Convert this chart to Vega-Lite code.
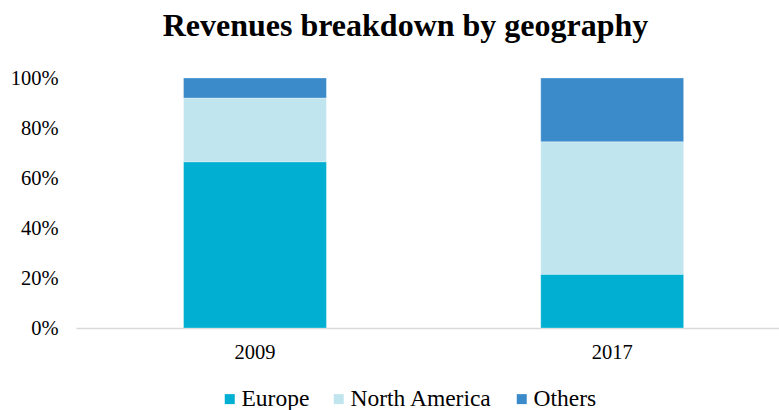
{
  "$schema": "https://vega.github.io/schema/vega-lite/v6.json",
  "autosize": "none",
  "width": 703,
  "height": 250,
  "padding": {"left": 76, "top": 78, "right": 0, "bottom": 82},
  "background": "white",
  "title": {
    "text": "Revenues breakdown by geography",
    "font": "Liberation Serif",
    "fontSize": 32,
    "fontWeight": "bold",
    "color": "#000000",
    "anchor": "middle",
    "dx": -22,
    "offset": 25
  },
  "data": {
    "values": [
      {"year": "2009", "region": "Europe", "share": 66.5},
      {"year": "2009", "region": "North America", "share": 25.5},
      {"year": "2009", "region": "Others", "share": 8},
      {"year": "2017", "region": "Europe", "share": 21.5},
      {"year": "2017", "region": "North America", "share": 53},
      {"year": "2017", "region": "Others", "share": 25.5}
    ]
  },
  "mark": {"type": "bar", "stroke": "#ffffff", "strokeWidth": 0.5, "strokeOpacity": 0.6},
  "encoding": {
    "x": {
      "field": "year",
      "type": "nominal",
      "scale": {"paddingInner": 0.6, "paddingOuter": 0.284, "align": 0.53},
      "axis": {
        "title": null,
        "labelAngle": 0,
        "labelFont": "Liberation Serif",
        "labelFontSize": 20.5,
        "labelColor": "#000000",
        "labelPadding": 14,
        "ticks": false,
        "domainColor": "#d9d9d9",
        "domainWidth": 1.5
      }
    },
    "y": {
      "field": "share",
      "type": "quantitative",
      "stack": "normalize",
      "scale": {"domain": [0, 1]},
      "axis": {
        "title": null,
        "format": ".0%",
        "values": [0, 0.2, 0.4, 0.6, 0.8, 1],
        "labelFont": "Liberation Serif",
        "labelFontSize": 20.5,
        "labelColor": "#000000",
        "labelPadding": 18,
        "ticks": false,
        "domain": false,
        "grid": false
      }
    },
    "color": {
      "field": "region",
      "type": "nominal",
      "scale": {
        "domain": ["Europe", "North America", "Others"],
        "range": ["#00AFD1", "#C0E5EE", "#3B8BCA"]
      },
      "legend": {
        "title": null,
        "orient": "none",
        "legendX": 142,
        "legendY": 309,
        "direction": "horizontal",
        "symbolType": "square",
        "symbolSize": 100,
        "symbolStrokeWidth": 0,
        "labelFont": "Liberation Serif",
        "labelFontSize": 23.5,
        "labelColor": "#000000",
        "columnPadding": 17,
        "labelOffset": 0
      }
    },
    "order": {"field": "region", "sort": "ascending"}
  },
  "config": {"view": {"stroke": null}}
}
